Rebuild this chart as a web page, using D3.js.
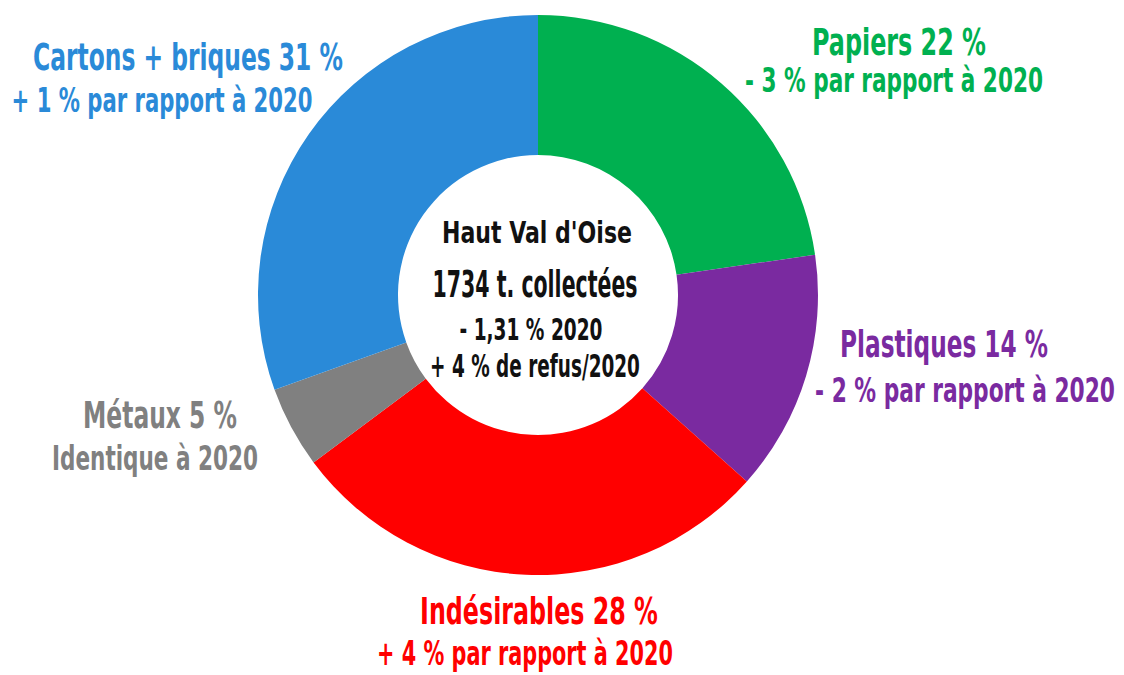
<!DOCTYPE html>
<html>
<head>
<meta charset="utf-8">
<script src="https://cdn.jsdelivr.net/npm/d3@7"></script>
<style>
  html, body { margin: 0; padding: 0; background: #fff; }
  svg { display: block; }
  text { font-family: "Liberation Sans Narrow", "DejaVu Sans Condensed", "Roboto", sans-serif; font-weight: bold; }
</style>
</head>
<body>
<div id="chart"></div>
<script>
// slices, clockwise from 12 o'clock
const categories = ['Papiers', 'Plastiques', 'Indésirables', 'Métaux', 'Cartons + briques']
// share of each slice as measured on the ring
const shares = [22.7, 13.9, 28.2, 4.7, 30.5]
// percentages printed in the labels
const labelPercents = [22, 14, 28, 5, 31]
const changeLines = [
  '- 3 % par rapport à 2020',
  '- 2 % par rapport à 2020',
  '+ 4 % par rapport à 2020',
  'Identique à 2020',
  '+ 1 % par rapport à 2020',
]
const colors = ['#00b050', '#7a2aa0', '#ff0000', '#808080', '#2a8ad8']

const centerLines = ['Haut Val d\'Oise', '1734 t. collectées', '- 1,31 % 2020', '+ 4 % de refus/2020']

const width = 1124
const height = 675
const cx = 538
const cy = 295
const outerR = 280
const innerR = 140

// where each label sits: [centre x, baseline y, text width] for both lines
const labelLayout = [
  { l1: [899, 55, 174], l2: [894, 92, 298] },
  { l1: [944, 357, 208], l2: [965, 402, 300] },
  { l1: [539, 624, 238], l2: [525, 665, 296] },
  { l1: [160, 428, 154], l2: [155, 470, 206] },
  { l1: [188, 70, 310], l2: [162, 112, 301] },
]
const centerLayout = [
  [537, 243, 190, 31],
  [535, 297, 205, 37],
  [531, 340, 143, 31],
  [535, 377, 210, 32],
]

const svg = d3.select('#chart').append('svg')
  .attr('width', width)
  .attr('height', height)

const pie = d3.pie().sort(null).value(d => d)
const arc = d3.arc().innerRadius(innerR).outerRadius(outerR)

const ring = svg.append('g').attr('transform', `translate(${cx}, ${cy})`)
ring.selectAll('path')
  .data(pie(shares))
  .join('path')
  .attr('d', arc)
  .attr('fill', (d, i) => colors[i])

// the source font is a very narrow brush face, so squeeze each line
// horizontally until it covers the same width as in the original
function addLine(text, pos, size, color) {
  const [x, y, w] = pos
  const t = svg.append('text')
    .attr('x', 0)
    .attr('y', 0)
    .attr('text-anchor', 'middle')
    .attr('font-size', size)
    .attr('fill', color)
    .text(text)
  const natural = t.node().getComputedTextLength()
  const sx = natural > 0 ? w / natural : 1
  t.attr('transform', `translate(${x}, ${y}) scale(${sx}, 1)`)
}

categories.forEach((name, i) => {
  addLine(`${name} ${labelPercents[i]} %`, labelLayout[i].l1, 38, colors[i])
  addLine(changeLines[i], labelLayout[i].l2, 33, colors[i])
})

centerLines.forEach((line, i) => {
  const [x, y, w, size] = centerLayout[i]
  addLine(line, [x, y, w], size, '#111')
})
</script>
</body>
</html>
